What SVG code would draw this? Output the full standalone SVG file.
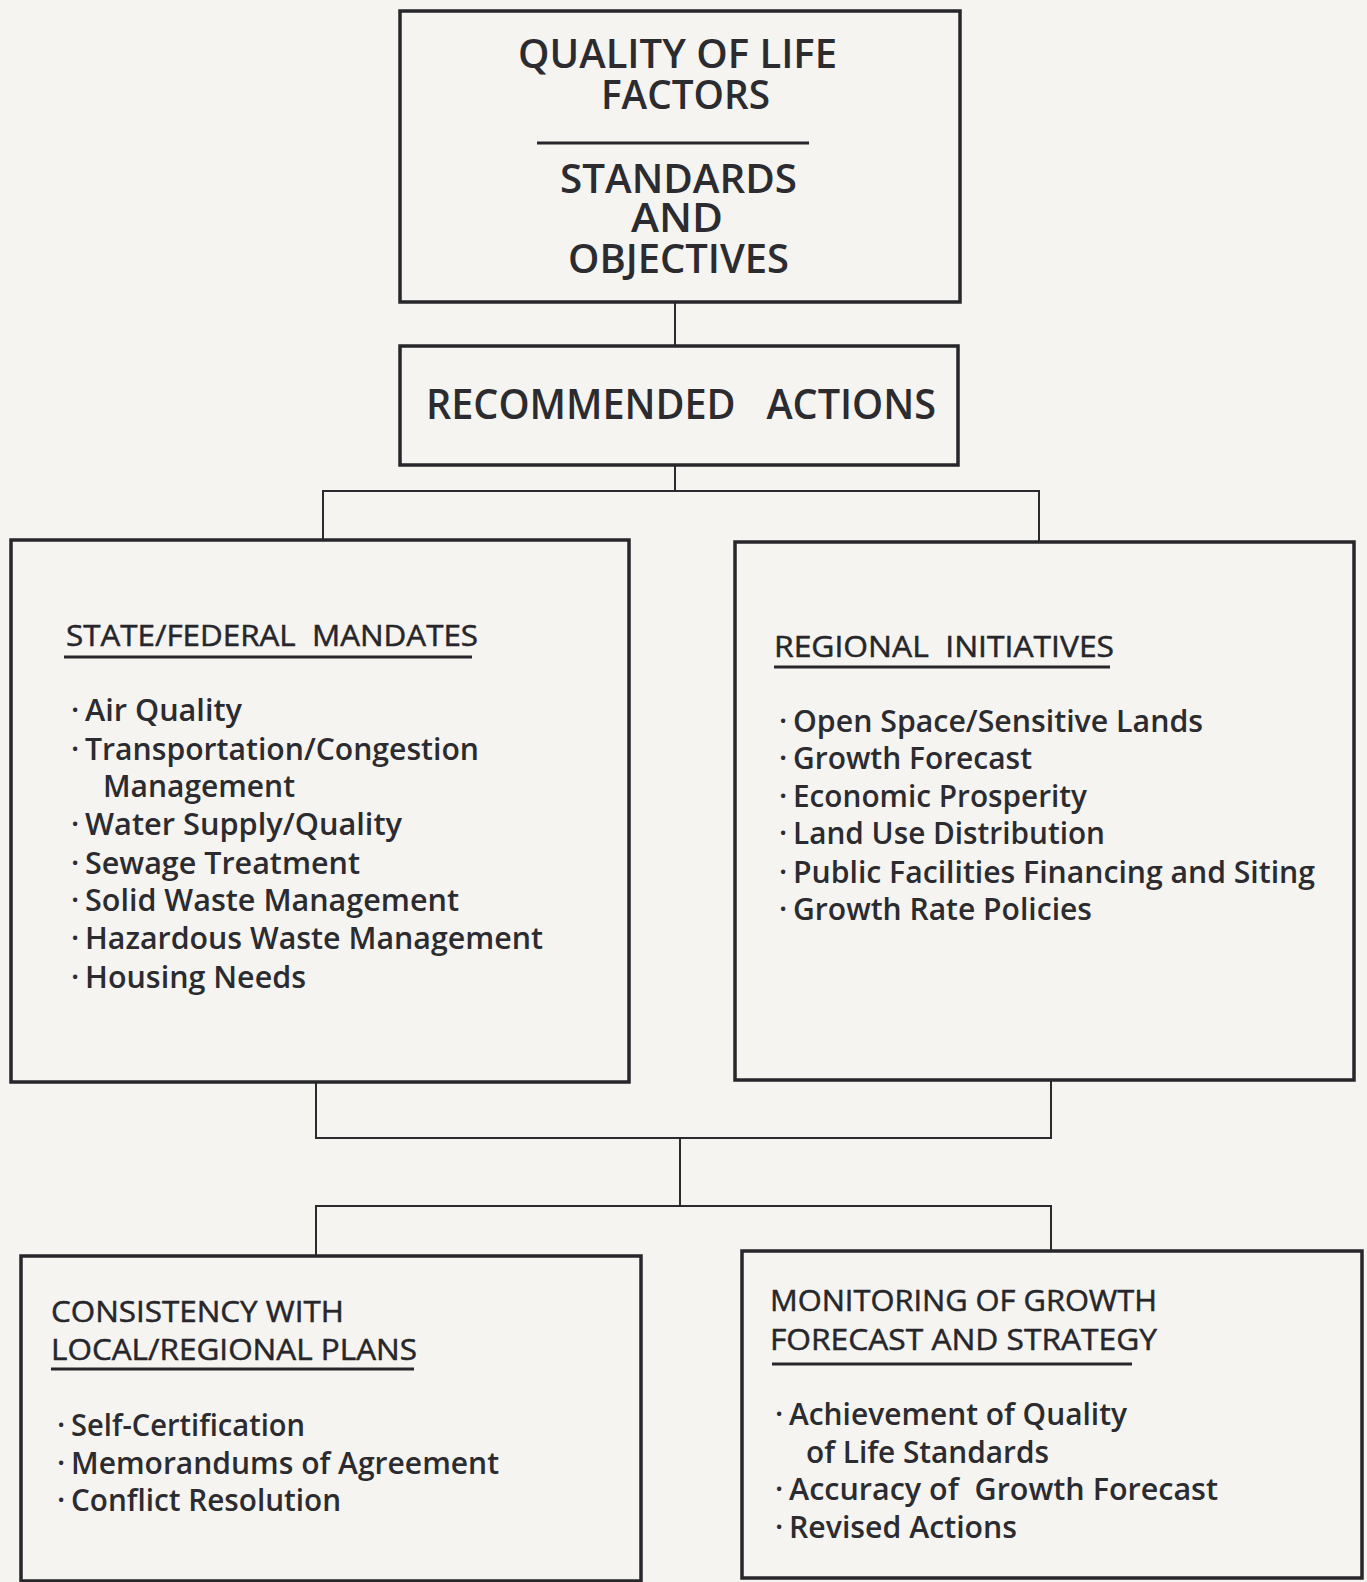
<svg xmlns="http://www.w3.org/2000/svg" width="1367" height="1582" viewBox="0 0 1367 1582">
<style>
  .box { fill: none; stroke: #26262b; stroke-width: 3.5; }
  .conn { fill: none; stroke: #2a2a2f; stroke-width: 2; }
  .rule { stroke: #26262b; stroke-width: 3; }
  .title { font-family: "Open Sans", "Liberation Sans", sans-serif; font-weight: 600; fill: #2b2b30; text-anchor: start; }
  .t40 { font-size: 39px; }
  .t42 { font-size: 42px; }
  .head { font-family: "Open Sans", "Liberation Sans", sans-serif; font-weight: 400; font-size: 30px; fill: #26262b; stroke: #26262b; stroke-width: 0.5; }
  .item { font-family: "Open Sans", "Liberation Sans", sans-serif; font-weight: 600; font-size: 30px; fill: #2b2b30; }
</style>
<rect x="0" y="0" width="1367" height="1582" fill="#f5f4f0"/>

<g id="connectors">
  <line class="conn" x1="675" y1="302" x2="675" y2="346"/>
  <polyline class="conn" points="675,465 675,491"/>
  <polyline class="conn" points="323,540 323,491 1039,491 1039,542"/>
  <polyline class="conn" points="316,1082 316,1138 1051,1138 1051,1080"/>
  <line class="conn" x1="680" y1="1138" x2="680" y2="1206"/>
  <polyline class="conn" points="316,1256 316,1206 1051,1206 1051,1251"/>
</g>

<g id="node-quality">
  <rect class="box" x="400" y="11" width="560" height="291"/>
  <text class="title t40" x="518" y="68" textLength="319" lengthAdjust="spacingAndGlyphs">QUALITY OF LIFE</text>
  <text class="title t40" x="601" y="109" textLength="169" lengthAdjust="spacingAndGlyphs">FACTORS</text>
  <line class="rule" x1="537" y1="143" x2="809" y2="143"/>
  <text class="title t40" x="560" y="193" textLength="237" lengthAdjust="spacingAndGlyphs">STANDARDS</text>
  <text class="title t40" x="631" y="232" textLength="92" lengthAdjust="spacingAndGlyphs">AND</text>
  <text class="title t40" x="568" y="273" textLength="221" lengthAdjust="spacingAndGlyphs">OBJECTIVES</text>
</g>

<g id="node-recommended">
  <rect class="box" x="400" y="346" width="558" height="119"/>
  <text class="title t42" x="426" y="419" textLength="510" lengthAdjust="spacingAndGlyphs" xml:space="preserve">RECOMMENDED   ACTIONS</text>
</g>

<g id="node-state">
  <rect class="box" x="11" y="540" width="618" height="542"/>
  <text class="head" x="66" y="646" textLength="412" lengthAdjust="spacingAndGlyphs" xml:space="preserve">STATE/FEDERAL  MANDATES</text>
  <line class="rule" x1="64" y1="657" x2="472" y2="657"/>
  <text class="item" x="71" y="721">·<tspan x="85" textLength="157" lengthAdjust="spacingAndGlyphs">Air Quality</tspan></text>
  <text class="item" x="71" y="760">·<tspan x="85" textLength="394" lengthAdjust="spacingAndGlyphs">Transportation/Congestion</tspan></text>
  <text class="item" x="103" y="797" textLength="192" lengthAdjust="spacingAndGlyphs">Management</text>
  <text class="item" x="71" y="835">·<tspan x="85" textLength="317" lengthAdjust="spacingAndGlyphs">Water Supply/Quality</tspan></text>
  <text class="item" x="71" y="874">·<tspan x="85" textLength="275" lengthAdjust="spacingAndGlyphs">Sewage Treatment</tspan></text>
  <text class="item" x="71" y="911">·<tspan x="85" textLength="374" lengthAdjust="spacingAndGlyphs">Solid Waste Management</tspan></text>
  <text class="item" x="71" y="949">·<tspan x="85" textLength="458" lengthAdjust="spacingAndGlyphs">Hazardous Waste Management</tspan></text>
  <text class="item" x="71" y="988">·<tspan x="85" textLength="221" lengthAdjust="spacingAndGlyphs">Housing Needs</tspan></text>
</g>

<g id="node-regional">
  <rect class="box" x="735" y="542" width="619" height="538"/>
  <text class="head" x="774" y="657" textLength="340" lengthAdjust="spacingAndGlyphs" xml:space="preserve">REGIONAL  INITIATIVES</text>
  <line class="rule" x1="774" y1="667" x2="1110" y2="667"/>
  <text class="item" x="779" y="732">·<tspan x="793" textLength="410" lengthAdjust="spacingAndGlyphs">Open Space/Sensitive Lands</tspan></text>
  <text class="item" x="779" y="769">·<tspan x="793" textLength="239" lengthAdjust="spacingAndGlyphs">Growth Forecast</tspan></text>
  <text class="item" x="779" y="807">·<tspan x="793" textLength="294" lengthAdjust="spacingAndGlyphs">Economic Prosperity</tspan></text>
  <text class="item" x="779" y="844">·<tspan x="793" textLength="312" lengthAdjust="spacingAndGlyphs">Land Use Distribution</tspan></text>
  <text class="item" x="779" y="883">·<tspan x="793" textLength="522" lengthAdjust="spacingAndGlyphs">Public Facilities Financing and Siting</tspan></text>
  <text class="item" x="779" y="920">·<tspan x="793" textLength="299" lengthAdjust="spacingAndGlyphs">Growth Rate Policies</tspan></text>
</g>

<g id="node-consistency">
  <rect class="box" x="21" y="1256" width="620" height="325"/>
  <text class="head" x="51" y="1322" textLength="293" lengthAdjust="spacingAndGlyphs">CONSISTENCY WITH</text>
  <text class="head" x="51" y="1360" textLength="366" lengthAdjust="spacingAndGlyphs">LOCAL/REGIONAL PLANS</text>
  <line class="rule" x1="51" y1="1369" x2="414" y2="1369"/>
  <text class="item" x="57" y="1436">·<tspan x="71" textLength="234" lengthAdjust="spacingAndGlyphs">Self-Certification</tspan></text>
  <text class="item" x="57" y="1474">·<tspan x="71" textLength="428" lengthAdjust="spacingAndGlyphs">Memorandums of Agreement</tspan></text>
  <text class="item" x="57" y="1511">·<tspan x="71" textLength="270" lengthAdjust="spacingAndGlyphs">Conflict Resolution</tspan></text>
</g>

<g id="node-monitoring">
  <rect class="box" x="742" y="1251" width="620" height="327"/>
  <text class="head" x="770" y="1311" textLength="387" lengthAdjust="spacingAndGlyphs">MONITORING OF GROWTH</text>
  <text class="head" x="770" y="1350" textLength="387" lengthAdjust="spacingAndGlyphs">FORECAST AND STRATEGY</text>
  <line class="rule" x1="772" y1="1364" x2="1132" y2="1364"/>
  <text class="item" x="775" y="1425">·<tspan x="789" textLength="338" lengthAdjust="spacingAndGlyphs">Achievement of Quality</tspan></text>
  <text class="item" x="806" y="1463" textLength="243" lengthAdjust="spacingAndGlyphs">of Life Standards</text>
  <text class="item" x="775" y="1500">·<tspan x="789" textLength="429" lengthAdjust="spacingAndGlyphs" xml:space="preserve">Accuracy of  Growth Forecast</tspan></text>
  <text class="item" x="775" y="1538">·<tspan x="789" textLength="228" lengthAdjust="spacingAndGlyphs">Revised Actions</tspan></text>
</g>
</svg>
